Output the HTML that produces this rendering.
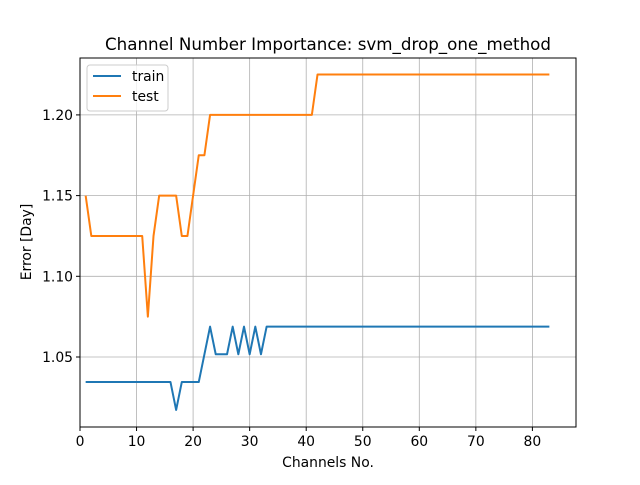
<!DOCTYPE html>
<html><head><meta charset="utf-8"><style>
body{margin:0;background:#fff;font-family:"Liberation Sans","DejaVu Sans",sans-serif}
</style></head><body>
<svg width="640" height="480" xmlns="http://www.w3.org/2000/svg" font-family="DejaVu Sans, Liberation Sans, sans-serif">
<rect width="640" height="480" fill="#fff"/>
<g id="grid"></g>
<g id="ticks"></g>
<g id="series"></g>
<rect x="80" y="58" width="496" height="369" fill="none" stroke="#000" stroke-width="1"/>
<text x="328" y="50" text-anchor="middle" font-size="16.7">Channel Number Importance: svm_drop_one_method</text>
<text x="328" y="467" text-anchor="middle" font-size="13.9">Channels No.</text>
<text x="31" y="242" text-anchor="middle" font-size="13.9" transform="rotate(-90 31 242)">Error [Day]</text>
<g>
<rect x="87" y="65" width="81" height="46" rx="3" fill="#fff" fill-opacity="0.8" stroke="#ccc"/>
<line x1="93" y1="76" x2="121" y2="76" stroke="#1f77b4" stroke-width="2"/>
<text x="132" y="81" font-size="13.9">train</text>
<line x1="93" y1="96" x2="121" y2="96" stroke="#ff7f0e" stroke-width="2"/>
<text x="132" y="101" font-size="13.9">test</text>
</g>
</svg>
<script>
const xTicks=[0,10,20,30,40,50,60,70,80];
const yTicks=[1.05,1.10,1.15,1.20];
const yTickLabels=["1.05","1.10","1.15","1.20"];
const trainX=[1,16,17,18,21,23,24,26,27,28,29,30,31,32,33,83];
const trainY=[1.0345,1.0345,1.0172,1.0345,1.0345,1.0688,1.0517,1.0517,1.0688,1.0517,1.0688,1.0517,1.0688,1.0517,1.0688,1.0688];
const testX=[1,2,11,12,13,14,17,18,19,21,22,23,41,42,83];
const testY=[1.15,1.125,1.125,1.075,1.125,1.15,1.15,1.125,1.125,1.175,1.175,1.2,1.2,1.225,1.225];
const NS="http://www.w3.org/2000/svg";
function sx(v){return 80+v*5.655;}
function sy(v){return 357-(v-1.05)*1614;}
function mk(t,a,p){const e=document.createElementNS(NS,t);for(const k in a)e.setAttribute(k,a[k]);p.appendChild(e);return e;}
const grid=document.getElementById('grid'),ticks=document.getElementById('ticks'),series=document.getElementById('series');
xTicks.forEach(v=>{const x=sx(v);
 const g=mk('line',{x1:x,x2:x,y1:58,y2:427,stroke:'#b0b0b0','stroke-width':0.8},grid);
 
 
 const t=mk('line',{x1:x,x2:x,y1:427,y2:431,stroke:'#000'},ticks);
 
 
 const l=mk('text',{x:x,y:446,'text-anchor':'middle','font-size':13.9},ticks);l.textContent=v;
 
 
});
yTicks.forEach((v,i)=>{const y=sy(v);
 const g=mk('line',{x1:80,x2:576,y1:y,y2:y,stroke:'#b0b0b0','stroke-width':0.8},grid);
 
 
 const t=mk('line',{x1:76,x2:80,y1:y,y2:y,stroke:'#000'},ticks);
 
 
 const l=mk('text',{x:73,y:y+5,'text-anchor':'end','font-size':13.9},ticks);l.textContent=yTickLabels[i];
 
 
});
function line(xs,ys,c,name){
 const p=mk('polyline',{points:xs.map((x,i)=>sx(x)+','+sy(ys[i])).join(' '),fill:'none',stroke:c,'stroke-width':2,'stroke-linejoin':'round'},series);
 
 
}
line(trainX,trainY,'#1f77b4','train-line');
line(testX,testY,'#ff7f0e','test-line');
</script>
</body></html>
